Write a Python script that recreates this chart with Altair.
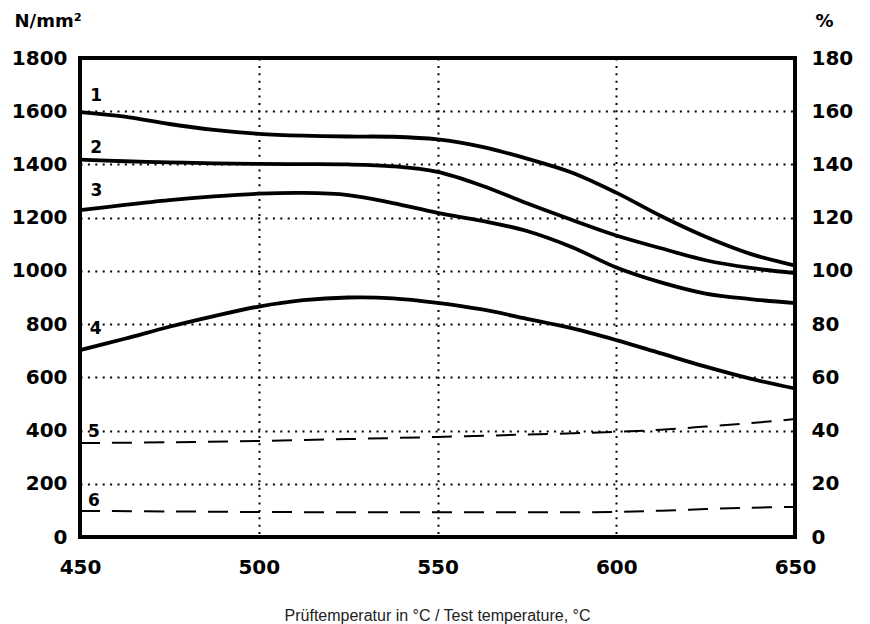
import altair as alt
import pandas as pd

# ---- data ----
temps = [450, 462.5, 475, 487.5, 500, 512.5, 525, 537.5, 550, 562.5, 575, 587.5, 600, 612.5, 625, 637.5, 650]
curve_1 = [1597, 1580, 1552, 1530, 1515, 1508, 1505, 1504, 1494, 1466, 1422, 1370, 1294, 1206, 1128, 1064, 1020]
curve_2 = [1418, 1412, 1408, 1404, 1402, 1401, 1400, 1393, 1372, 1320, 1254, 1192, 1133, 1085, 1040, 1011, 992]
curve_3 = [1228, 1248, 1266, 1280, 1290, 1293, 1285, 1255, 1218, 1188, 1150, 1090, 1013, 957, 915, 894, 879]
curve_4 = [702, 745, 790, 830, 866, 890, 900, 897, 880, 855, 820, 785, 740, 690, 640, 595, 558]

temps_pct = [450, 475, 500, 525, 550, 575, 600, 612.5, 625, 637.5, 650]
curve_5 = [35.3, 35.6, 36.1, 36.8, 37.6, 38.5, 39.5, 40.3, 41.5, 42.8, 44.3]
curve_6 = [9.8, 9.6, 9.4, 9.3, 9.3, 9.3, 9.4, 9.9, 10.5, 11.0, 11.3]

left_labels = ["1", "2", "3", "4"]
left_label_temps = [454.5, 454.5, 454.6, 454.4]
left_label_values = [1657, 1462, 1300, 782]

right_labels = ["5", "6"]
right_label_temps = [453.9, 453.9]
right_label_values = [39.5, 13.5]

x_ticks = [450, 500, 550, 600, 650]
left_ticks = [0, 200, 400, 600, 800, 1000, 1200, 1400, 1600, 1800]
right_ticks = [0, 20, 40, 60, 80, 100, 120, 140, 160, 180]

x_title = "Prüftemperatur in °C / Test temperature, °C"
left_unit = "N/mm²"
right_unit = "%"

# ---- tables ----
rows = []
for name, vals in zip(["1", "2", "3", "4"], [curve_1, curve_2, curve_3, curve_4]):
    for t, v in zip(temps, vals):
        rows.append({"temp": t, "value": v, "series": name})
df_left = pd.DataFrame(rows)

rows = []
for name, vals in zip(["5", "6"], [curve_5, curve_6]):
    for t, v in zip(temps_pct, vals):
        rows.append({"temp": t, "value": v, "series": name})
df_right = pd.DataFrame(rows)

df_lab_left = pd.DataFrame({"temp": left_label_temps, "value": left_label_values, "label": left_labels})
df_lab_right = pd.DataFrame({"temp": right_label_temps, "value": right_label_values, "label": right_labels})

GRID_DASH = [2, 5.4]

x_axis = alt.Axis(
    values=x_ticks, title=x_title, format="d", grid=True, gridColor="black", gridDash=GRID_DASH,
    gridWidth=2, gridOpacity=1, domain=False, ticks=False, tickSize=0,
    labelFont="DejaVu Sans", labelFontWeight="bold", labelFontSize=20, labelColor="black",
    labelPadding=20, labelFlush=False, labelOverlap=False,
    titleFont="Liberation Sans", titleFontSize=16, titleFontWeight="normal", titleColor="#222222",
    titleX=357, titleY=83, titleAlign="center", titleBaseline="alphabetic",
)
x_enc = alt.X("temp:Q", scale=alt.Scale(domain=[450, 650], nice=False, zero=False), axis=x_axis)

left_axis = alt.Axis(
    values=left_ticks, title=left_unit, format="d", grid=True, gridColor="black", gridDash=GRID_DASH,
    gridWidth=2, gridOpacity=1, domain=False, ticks=False, tickSize=0,
    labelFont="DejaVu Sans", labelFontWeight="bold", labelFontSize=20, labelColor="black",
    labelPadding=13, labelFlush=False, labelOverlap=False,
    titleFont="DejaVu Sans", titleFontWeight="bold", titleFontSize=18, titleColor="black",
    titleAngle=0, titleX=-66, titleY=-32, titleAlign="left", titleBaseline="alphabetic",
)
right_axis = alt.Axis(
    orient="right", values=right_ticks, title=right_unit, format="d", grid=False, domain=False,
    ticks=False, tickSize=0,
    labelFont="DejaVu Sans", labelFontWeight="bold", labelFontSize=20, labelColor="black",
    labelPadding=16, labelFlush=False, labelOverlap=False,
    titleFont="DejaVu Sans", titleFontWeight="bold", titleFontSize=18, titleColor="black",
    titleAngle=0, titleX=20, titleY=-32, titleAlign="left", titleBaseline="alphabetic",
)

y_left = alt.Y("value:Q", scale=alt.Scale(domain=[0, 1800], nice=False, zero=True), axis=left_axis)
y_right = alt.Y("value:Q", scale=alt.Scale(domain=[0, 180], nice=False, zero=True), axis=right_axis)

lines_left = alt.Chart(df_left).mark_line(
    color="black", strokeWidth=3.8, interpolate="catmull-rom", strokeCap="round"
).encode(x=x_enc, y=y_left, detail="series:N")

text_left = alt.Chart(df_lab_left).mark_text(
    font="DejaVu Sans", fontWeight="bold", fontSize=17, color="black", baseline="middle", align="center"
).encode(x=x_enc, y=y_left, text="label:N")

lines_right = alt.Chart(df_right).mark_line(
    color="black", strokeWidth=2, interpolate="catmull-rom", strokeDash=[20, 12]
).encode(x=x_enc, y=y_right, detail="series:N")

text_right = alt.Chart(df_lab_right).mark_text(
    font="DejaVu Sans", fontWeight="bold", fontSize=17, color="black", baseline="middle", align="center"
).encode(x=x_enc, y=y_right, text="label:N")

chart = alt.layer(
    alt.layer(lines_left, text_left),
    alt.layer(lines_right, text_right),
).resolve_scale(y="independent").properties(
    width=715, height=479,
    padding={"left": 80, "top": 58, "right": 75, "bottom": 87},
    autosize=alt.AutoSizeParams(type="none"),
    background="white",
).configure_view(stroke="black", strokeWidth=4)

chart.save("out.html", embed_options={"renderer": "svg", "actions": False})
